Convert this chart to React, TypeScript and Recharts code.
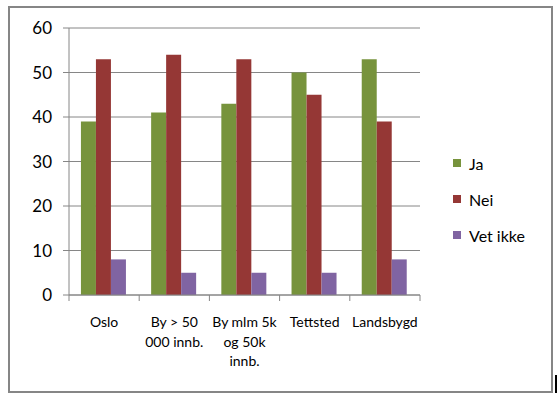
import React from 'react';
import { BarChart, Bar, XAxis, YAxis, CartesianGrid } from 'recharts';

const categories = ['Oslo', 'By > 50\n000 innb.', 'By mlm 5k\nog 50k\ninnb.', 'Tettsted', 'Landsbygd'];
const ja = [39, 41, 43, 50, 53];
const nei = [53, 54, 53, 45, 39];
const vetIkke = [8, 5, 5, 5, 8];
const yTicks = [0, 10, 20, 30, 40, 50, 60];

const data = categories.map((name, i) => ({ name, Ja: ja[i], Nei: nei[i], 'Vet ikke': vetIkke[i] }));

const FONT = 'Lato, "Open Sans", sans-serif';
const GRID = '#868686';
const PLOT_LEFT = 69;
const PLOT_RIGHT = 420;
const HALF_BAND = (PLOT_RIGHT - PLOT_LEFT) / categories.length / 2;

const series = [
    { key: 'Ja', color: '#77933C' },
    { key: 'Nei', color: '#953735' },
    { key: 'Vet ikke', color: '#8064A2' },
];

// category label plus the Excel-style tick marks between categories
const CategoryTick = (props: any) => {
    const { x, y, payload, index } = props;
    const lines = String(payload.value).split('\n');
    const axisY = y - 8;
    return (
        <g>
            <line x1={x - HALF_BAND} x2={x - HALF_BAND} y1={axisY} y2={axisY + 6} stroke={GRID} />
            {index === categories.length - 1 && (
                <line x1={x + HALF_BAND} x2={x + HALF_BAND} y1={axisY} y2={axisY + 6} stroke={GRID} />
            )}
            <text x={x} y={y + 24} textAnchor="middle" fontSize={14} fontFamily={FONT} fill="#000">
                {lines.map((l, i) => (
                    <tspan key={i} x={x} dy={i === 0 ? 0 : 19.5}>{l}</tspan>
                ))}
            </text>
        </g>
    );
};

const LegendBox = () => (
    <div style={{ position: 'absolute', left: 453, top: 145, fontFamily: FONT, fontSize: 16, color: '#000' }}>
        {series.map(s => (
            <div key={s.key} style={{ display: 'flex', alignItems: 'center', height: 36 }}>
                <span style={{ width: 8, height: 8, background: s.color, marginRight: 8, display: 'inline-block' }} />
                {s.key}
            </div>
        ))}
    </div>
);

export default function App() {
    return (
        <div style={{ position: 'absolute', left: 0, top: 0, width: 559, height: 397, background: '#fff' }}>
            <div style={{ position: 'absolute', left: 8, top: 6, width: 541, height: 383, border: '2px solid #868686' }} />
            <div style={{ position: 'absolute', left: 555, top: 375, width: 2, height: 18, background: '#000' }} />
            <div style={{ position: 'absolute', left: 0, top: 0 }}>
                <BarChart
                    width={559}
                    height={397}
                    data={data}
                    margin={{ top: 28, right: 139, bottom: 42, left: 9 }}
                    barGap={0}
                    barCategoryGap="17%"
                >
                    <CartesianGrid vertical={false} stroke={GRID} strokeWidth={1} />
                    <XAxis
                        dataKey="name"
                        height={60}
                        axisLine={{ stroke: GRID }}
                        tickLine={false}
                        interval={0}
                        tick={<CategoryTick />}
                    />
                    <YAxis
                        width={60}
                        domain={[0, 60]}
                        ticks={yTicks}
                        axisLine={{ stroke: GRID }}
                        tickLine={{ stroke: GRID }}
                        tickSize={6}
                        tickMargin={11}
                        tick={{ fontSize: 17, fontFamily: FONT, fill: '#000' }}
                    />
                    {series.map(s => (
                        <Bar key={s.key} dataKey={s.key} fill={s.color} isAnimationActive={false} />
                    ))}
                </BarChart>
            </div>
            <LegendBox />
        </div>
    );
}
